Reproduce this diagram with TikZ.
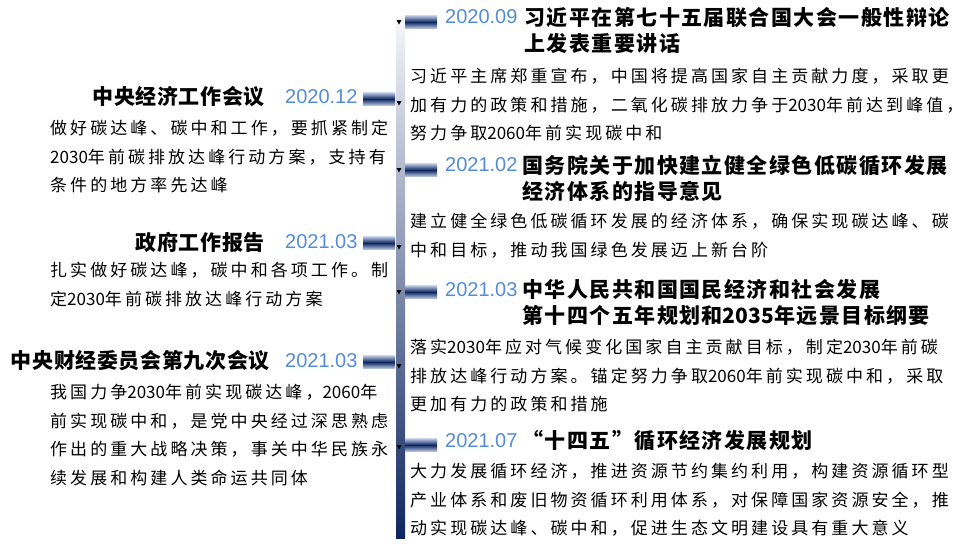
\documentclass[tikz,border=0pt]{standalone}
\usepackage{fontspec}
\setmainfont{Noto Sans CJK SC}
\newfontfamily\datefont{Liberation Sans}
\newfontfamily\plainfont{Noto Sans CJK SC}
\newfontfamily\bodyfont[LetterSpace=18]{Noto Sans CJK SC}
\newfontfamily\headfont[LetterSpace=3]{Noto Sans CJK SC}
\newfontfamily\headwfont[LetterSpace=7]{Noto Sans CJK SC}
\newcommand\yr[1]{{\plainfont #1}}
\definecolor{datecol}{RGB}{84,141,212}
\definecolor{navy}{RGB}{14,38,96}
\definecolor{marklight}{RGB}{190,203,230}
\definecolor{bartop}{RGB}{246,247,250}
\begin{document}
\begin{tikzpicture}[x=1pt,y=-1pt,
  date/.style={font=\datefont\fontsize{20}{24}\selectfont,text=datecol,inner sep=0pt,anchor=west},
  head/.style={font=\headfont\bfseries\fontsize{21}{26}\selectfont,inner sep=0pt,anchor=east},
  headr/.style={font=\headwfont\bfseries\fontsize{21}{26}\selectfont,inner sep=0pt,anchor=north west,align=left},
  body/.style={font=\bodyfont\fontsize{17}{28.5}\selectfont,inner sep=0pt,anchor=north west,align=left},
  marker/.style={minimum width=32pt,minimum height=13pt,inner sep=0pt,
    top color=marklight,bottom color=marklight,middle color=navy}]
\useasboundingbox[fill=white] (0,0) rectangle (971,547);

\shade[top color=bartop,bottom color=navy] (396,18) rectangle (405,538);
\foreach \t in {22,103,170,247,292,366,447}
  \fill (396.5,\t-2) -- ++(5,0) -- ++(-2.5,4.5) -- cycle;

\node[marker] (mk1) at (421,22) {};
\node[date] (d1) at (445,17) {2020.09};
\node[headr] (h1) at (524,7) {习近平在第七十五届联合国大会一般性辩论\\上发表重要讲话};
\node[body] (b1) at (410,68) {习近平主席郑重宣布，中国将提高国家自主贡献力度，采取更\\加有力的政策和措施，二氧化碳排放力争于\yr{2030}年前达到峰值，\\努力争取\yr{2060}年前实现碳中和};

\node[marker] (mk2) at (421,170) {};
\node[date] (d2) at (445,165) {2021.02};
\node[headr] (h2) at (522,155) {国务院关于加快建立健全绿色低碳循环发展\\经济体系的指导意见};
\node[body] (b2) at (410,213) {建立健全绿色低碳循环发展的经济体系，确保实现碳达峰、碳\\中和目标，推动我国绿色发展迈上新台阶};

\node[marker] (mk3) at (421,292) {};
\node[date] (d3) at (445,290) {2021.03};
\node[headr] (h3) at (522,279) {中华人民共和国国民经济和社会发展\\第十四个五年规划和\yr{2035}年远景目标纲要};
\node[body] (b3) at (410,339) {落实\yr{2030}年应对气候变化国家自主贡献目标，制定\yr{2030}年前碳\\排放达峰行动方案。锚定努力争取\yr{2060}年前实现碳中和，采取\\更加有力的政策和措施};

\node[marker] (mk4) at (421,445) {};
\node[date] (d4) at (445,441) {2021.07};
\node[headr] (h4) at (522,430) {“十四五”循环经济发展规划};
\node[body] (b4) at (410,463) {大力发展循环经济，推进资源节约集约利用，构建资源循环型\\产业体系和废旧物资循环利用体系，对保障国家资源安全，推\\动实现碳达峰、碳中和，促进生态文明建设具有重大意义};

\node[marker] (mk5) at (379,99) {};
\node[date] (d5) at (285,97) {2020.12};
\node[head] (h5) at (265,97) {中央经济工作会议};
\node[body] (b5) at (50,120) {做好碳达峰、碳中和工作，要抓紧制定\\\yr{2030}年前碳排放达峰行动方案，支持有\\条件的地方率先达峰};

\node[marker] (mk6) at (379,243) {};
\node[date] (d6) at (285,242) {2021.03};
\node[head] (h6) at (265,242) {政府工作报告};
\node[body] (b6) at (50,262) {扎实做好碳达峰，碳中和各项工作。制\\定\yr{2030}年前碳排放达峰行动方案};

\node[marker] (mk7) at (379,362) {};
\node[date] (d7) at (285,361) {2021.03};
\node[head] (h7) at (270,361) {中央财经委员会第九次会议};
\node[body] (b7) at (50,384) {我国力争\yr{2030}年前实现碳达峰，\yr{2060}年\\前实现碳中和，是党中央经过深思熟虑\\作出的重大战略决策，事关中华民族永\\续发展和构建人类命运共同体};
\end{tikzpicture}
\end{document}
